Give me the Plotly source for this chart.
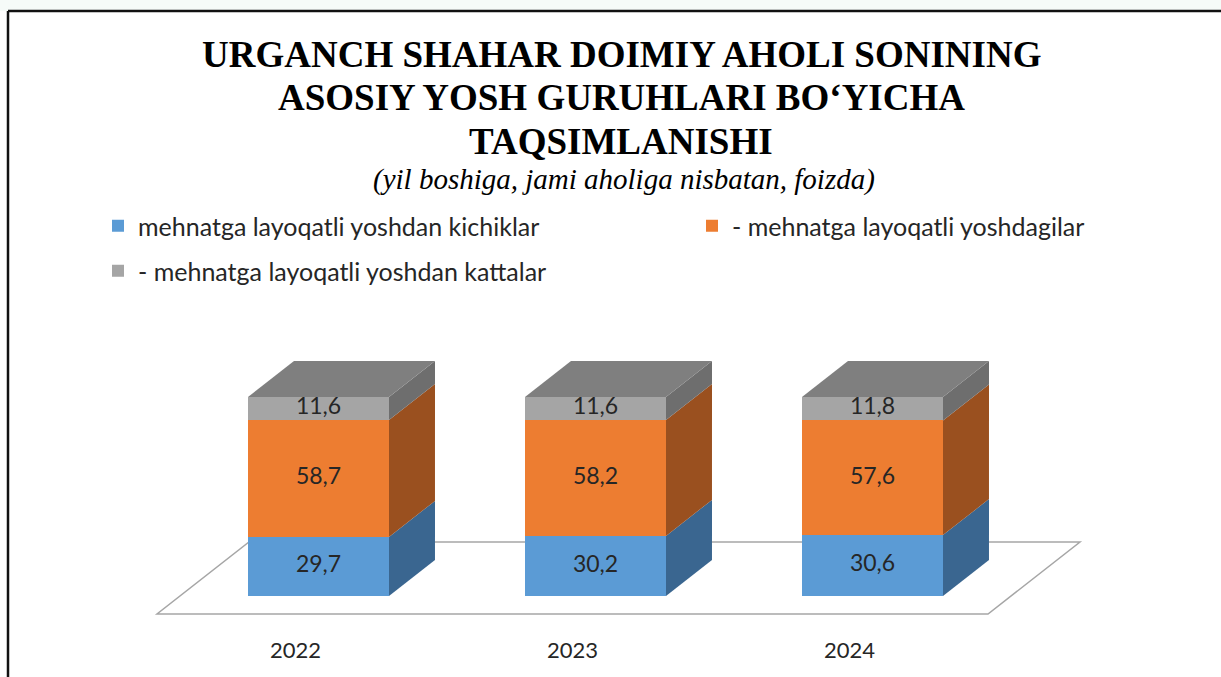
import plotly.graph_objects as go

# ---------------- data ----------------
years = ["2022", "2023", "2024"]
kichiklar = [29.7, 30.2, 30.6]      # mehnatga layoqatli yoshdan kichiklar
yoshdagilar = [58.7, 58.2, 57.6]    # mehnatga layoqatli yoshdagilar
kattalar = [11.6, 11.6, 11.8]       # mehnatga layoqatli yoshdan kattalar
series_names = ["mehnatga layoqatli yoshdan kichiklar",
                "- mehnatga layoqatli yoshdagilar",
                "- mehnatga layoqatli yoshdan kattalar"]

# ---------------- style ----------------
W, H = 1221, 677
front_cols = ["#5B9BD5", "#ED7D31", "#A5A5A5"]
side_cols = ["#3A6690", "#9A501F", "#6E6E6E"]
top_col = "#7F7F7F"
BAR_W = 0.509          # bar width in category units
DX = 0.166             # 3D depth offset (x, category units)
DY = 18.1              # 3D depth offset (y, value units)
X_RANGE = [-318.5 / 277, (W - 318.5) / 277]
Y_RANGE = [(596 - H) / 1.99, 596 / 1.99]

series = [kichiklar, yoshdagilar, kattalar]
xs = list(range(len(years)))

fig = go.Figure()

# front faces (stacked bars)
legends = ["legend", "legend2", "legend3"]
for k, vals in enumerate(series):
    fig.add_trace(go.Bar(
        x=xs, y=vals, width=BAR_W, name=series_names[k],
        marker=dict(color=front_cols[k], line=dict(width=0)),
        legend=legends[k], hoverinfo="skip"))

# side faces and top faces, computed from data
for i in xs:
    base = 0.0
    for k, vals in enumerate(series):
        b, t = base, base + vals[i]
        xr = i + BAR_W / 2
        fig.add_trace(go.Scatter(
            x=[xr, xr + DX, xr + DX, xr, xr],
            y=[b, b + DY, t + DY, t, b],
            fill="toself", fillcolor=side_cols[k], mode="none",
            showlegend=False, hoverinfo="skip"))
        base = t
    xl = i - BAR_W / 2
    xr = i + BAR_W / 2
    fig.add_trace(go.Scatter(
        x=[xl, xr, xr + DX, xl + DX, xl],
        y=[base, base, base + DY, base + DY, base],
        fill="toself", fillcolor=top_col, mode="none",
        showlegend=False, hoverinfo="skip"))

# value labels
for k, vals in enumerate(series):
    mids = []
    for i in xs:
        below = sum(series[j][i] for j in range(k))
        mids.append(below + vals[i] / 2)
    fig.add_trace(go.Scatter(
        x=xs, y=mids, mode="text",
        text=[f"{v:.1f}".replace(".", ",") for v in vals],
        textfont=dict(family="Lato", size=23, color="#262626"),
        showlegend=False, hoverinfo="skip"))

# floor (parallelogram under bars)
fx0, fx1 = -0.5, 2.5
f_front, f_back = -0.5, 1.5
path = (f"M {fx0 + f_front*DX},{f_front*DY} L {fx1 + f_front*DX},{f_front*DY} "
        f"L {fx1 + f_back*DX},{f_back*DY} L {fx0 + f_back*DX},{f_back*DY} Z")
shapes = [dict(type="path", path=path, xref="x", yref="y", layer="below",
               fillcolor="white", line=dict(color="#A6A6A6", width=1.5))]

# frame
shapes += [
    dict(type="rect", xref="paper", yref="paper", x0=0, x1=1, y0=1 - 11 / H, y1=1,
         fillcolor="#F6FBF8", line=dict(width=0), layer="below"),
    dict(type="line", xref="paper", yref="paper", x0=8 / W, x1=1,
         y0=1 - 11 / H, y1=1 - 11 / H, line=dict(color="#111111", width=2.5)),
    dict(type="line", xref="paper", yref="paper", x0=8 / W, x1=8 / W,
         y0=0, y1=1 - 11 / H, line=dict(color="#111111", width=2.5)),
]

annotations = []
# year labels
for i, yr in enumerate(years):
    annotations.append(dict(x=i - 0.5 * DX, y=(596 - 649) / 1.99, xref="x", yref="y",
                            text=yr, showarrow=False,
                            font=dict(family="Lato", size=22, color="#262626")))
# title
title_lines = ["URGANCH SHAHAR DOIMIY AHOLI SONINING",
               "ASOSIY YOSH GURUHLARI BO‘YICHA",
               "TAQSIMLANISHI"]
for j, line in enumerate(title_lines):
    annotations.append(dict(x=621 / W, y=1 - (54 + 43.5 * j) / H, xref="paper", yref="paper",
                            text=f"<b>{line}</b>", showarrow=False, yanchor="middle",
                            font=dict(family="Liberation Serif", size=37, color="#000000")))
annotations.append(dict(x=624 / W, y=1 - 180 / H, xref="paper", yref="paper",
                        text="<i>(yil boshiga, jami aholiga nisbatan, foizda)</i>",
                        showarrow=False, yanchor="middle",
                        font=dict(family="Liberation Serif", size=29, color="#000000")))

leg_font = dict(family="Lato", size=25, color="#262626")
fig.update_layout(
    width=W, height=H, margin=dict(l=0, r=0, t=0, b=0),
    paper_bgcolor="white", plot_bgcolor="white",
    barmode="stack", bargap=0,
    xaxis=dict(range=X_RANGE, visible=False, fixedrange=True),
    yaxis=dict(range=Y_RANGE, visible=False, fixedrange=True),
    shapes=shapes, annotations=annotations,
    legend=dict(x=98 / W, y=1 - 226 / H, xanchor="left", yanchor="middle",
                font=leg_font, bgcolor="rgba(0,0,0,0)"),
    legend2=dict(x=692 / W, y=1 - 226 / H, xanchor="left", yanchor="middle",
                 font=leg_font, bgcolor="rgba(0,0,0,0)"),
    legend3=dict(x=98 / W, y=1 - 271 / H, xanchor="left", yanchor="middle",
                 font=leg_font, bgcolor="rgba(0,0,0,0)"),
)

fig.write_html("out.html")
